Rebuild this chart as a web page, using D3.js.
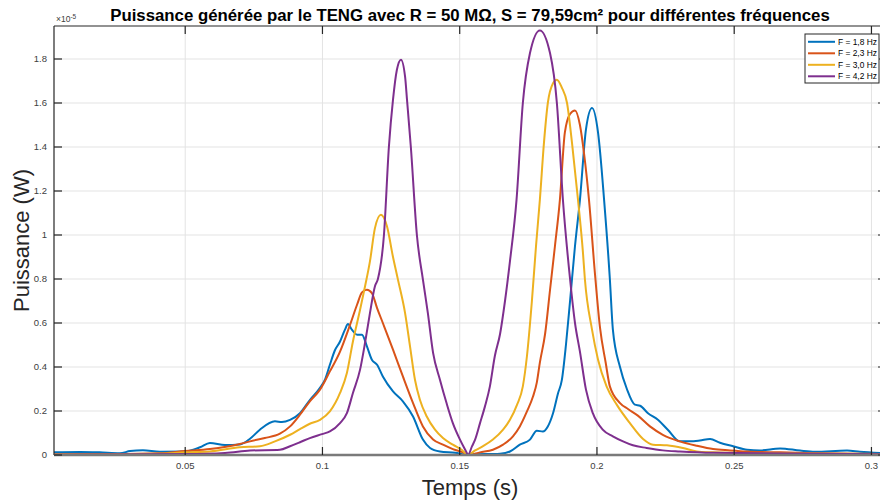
<!DOCTYPE html>
<html><head><meta charset="utf-8">
<script src="https://cdn.jsdelivr.net/npm/d3@7"></script>
<style>
body{margin:0;background:#fff;}
svg{display:block;font-family:"Liberation Sans",Arial,Helvetica,sans-serif;}
</style></head>
<body><svg id="c" width="880" height="501"></svg>
<script>
const titleText = "Puissance générée par le TENG avec R = 50 MΩ, S = 79,59cm² pour différentes fréquences";
const xLabel = "Temps (s)";
const yLabel = "Puissance (W)";
const xTicks = [0.05, 0.1, 0.15, 0.2, 0.25, 0.3];
const xTickLabels = ["0.05", "0.1", "0.15", "0.2", "0.25", "0.3"];
const yTicks = [0, 0.2, 0.4, 0.6, 0.8, 1, 1.2, 1.4, 1.6, 1.8];
const yTickLabels = ["0", "0.2", "0.4", "0.6", "0.8", "1", "1.2", "1.4", "1.6", "1.8"];
const seriesNames = ["F = 1,8 Hz", "F = 2,3 Hz", "F = 3,0 Hz", "F = 4,2 Hz"];
const seriesColors = ["#0072BD", "#D95319", "#EDB120", "#7E2F8E"];

// values in units of 1e-5 W
const tBlue = [0.0022,0.0117,0.0188,0.0262,0.0299,0.0346,0.0408,0.0499,0.0554,0.0590,0.0645,0.0699,0.0736,0.0772,0.0827,0.0852,0.0882,0.0918,0.0954,0.0991,0.1010,0.1027,0.1045,0.1064,0.1082,0.1093,0.1107,0.1126,0.1144,0.1162,0.1180,0.1199,0.1220,0.1257,0.1293,0.1330,0.1366,0.1392,0.1428,0.1483,0.1530,0.1537,0.1647,0.1683,0.1719,0.1756,0.1781,0.1803,0.1821,0.1840,0.1858,0.1872,0.1887,0.1902,0.1920,0.1938,0.1960,0.1982,0.2004,0.2026,0.2047,0.2058,0.2084,0.2109,0.2138,0.2157,0.2186,0.2222,0.2258,0.2302,0.2339,0.2375,0.2412,0.2448,0.2496,0.2547,0.2594,0.2667,0.2740,0.2794,0.2911,0.2958,0.3053];
const vBlue = [0.012,0.014,0.012,0.008,0.018,0.022,0.015,0.016,0.035,0.055,0.045,0.048,0.074,0.115,0.153,0.150,0.160,0.190,0.250,0.305,0.345,0.410,0.475,0.516,0.570,0.595,0.570,0.547,0.547,0.494,0.433,0.410,0.357,0.289,0.244,0.175,0.070,0.032,0.016,0.010,0.000,0.002,0.006,0.016,0.047,0.070,0.110,0.107,0.130,0.190,0.280,0.340,0.500,0.700,0.950,1.160,1.480,1.577,1.465,1.160,0.800,0.570,0.400,0.300,0.229,0.224,0.190,0.160,0.115,0.062,0.062,0.066,0.073,0.056,0.040,0.024,0.021,0.030,0.020,0.015,0.020,0.015,0.008];

const tOrange = [0.0022,0.0188,0.0408,0.0499,0.0590,0.0699,0.0736,0.0790,0.0845,0.0882,0.0918,0.0954,0.0991,0.1027,0.1064,0.1100,0.1126,0.1144,0.1162,0.1180,0.1199,0.1220,0.1257,0.1293,0.1330,0.1366,0.1403,0.1439,0.1475,0.1512,0.1530,0.1574,0.1621,0.1658,0.1694,0.1719,0.1745,0.1767,0.1781,0.1792,0.1811,0.1829,0.1847,0.1865,0.1883,0.1902,0.1920,0.1938,0.1953,0.1971,0.1993,0.2011,0.2032,0.2047,0.2084,0.2113,0.2149,0.2193,0.2240,0.2302,0.2364,0.2423,0.2485,0.2547,0.2667,0.2794,0.3053];
const vOrange = [0.003,0.004,0.008,0.018,0.027,0.050,0.062,0.077,0.097,0.130,0.183,0.244,0.297,0.380,0.470,0.590,0.683,0.739,0.751,0.736,0.668,0.600,0.479,0.357,0.236,0.130,0.070,0.047,0.027,0.012,0.000,0.012,0.024,0.047,0.085,0.130,0.198,0.266,0.330,0.420,0.550,0.750,0.950,1.160,1.465,1.550,1.566,1.500,1.370,1.160,0.820,0.580,0.418,0.312,0.236,0.209,0.179,0.130,0.092,0.062,0.042,0.027,0.021,0.016,0.012,0.008,0.004];

const tYellow = [0.0022,0.0408,0.0499,0.0590,0.0699,0.0772,0.0827,0.0882,0.0918,0.0954,0.0991,0.1027,0.1064,0.1089,0.1111,0.1137,0.1155,0.1173,0.1191,0.1213,0.1235,0.1257,0.1275,0.1301,0.1319,0.1337,0.1355,0.1380,0.1410,0.1439,0.1475,0.1507,0.1530,0.1556,0.1585,0.1621,0.1658,0.1683,0.1709,0.1730,0.1745,0.1763,0.1778,0.1792,0.1807,0.1821,0.1840,0.1854,0.1872,0.1891,0.1909,0.1931,0.1949,0.1956,0.1982,0.2004,0.2035,0.2072,0.2120,0.2168,0.2204,0.2255,0.2313,0.2364,0.2423,0.2547,0.3053];
const vYellow = [0.002,0.006,0.012,0.016,0.035,0.040,0.062,0.092,0.118,0.142,0.160,0.198,0.282,0.373,0.516,0.660,0.766,0.880,1.030,1.092,1.040,0.900,0.797,0.645,0.494,0.342,0.251,0.175,0.115,0.077,0.047,0.024,0.000,0.021,0.040,0.070,0.115,0.160,0.229,0.312,0.450,0.700,0.950,1.160,1.420,1.600,1.690,1.706,1.670,1.600,1.420,1.160,0.920,0.800,0.570,0.433,0.312,0.229,0.145,0.073,0.047,0.044,0.032,0.016,0.012,0.008,0.004];

const tPurple = [0.0022,0.0499,0.0645,0.0736,0.0845,0.0882,0.0918,0.0954,0.0998,0.1027,0.1064,0.1089,0.1111,0.1137,0.1155,0.1173,0.1191,0.1202,0.1224,0.1242,0.1257,0.1271,0.1286,0.1301,0.1308,0.1322,0.1344,0.1366,0.1384,0.1403,0.1428,0.1452,0.1475,0.1501,0.1525,0.1530,0.1545,0.1556,0.1574,0.1592,0.1610,0.1628,0.1647,0.1665,0.1683,0.1707,0.1730,0.1756,0.1792,0.1829,0.1854,0.1876,0.1902,0.1920,0.1938,0.1960,0.1985,0.2021,0.2058,0.2095,0.2131,0.2181,0.2240,0.2302,0.2423,0.3053];
const vPurple = [0.001,0.004,0.009,0.020,0.024,0.040,0.058,0.077,0.095,0.107,0.145,0.190,0.282,0.388,0.509,0.645,0.766,0.800,1.000,1.400,1.615,1.750,1.797,1.720,1.615,1.400,1.000,0.797,0.645,0.464,0.342,0.236,0.145,0.070,0.012,0.000,0.040,0.070,0.145,0.221,0.312,0.450,0.550,0.700,0.880,1.160,1.600,1.827,1.930,1.827,1.600,1.160,0.800,0.600,0.470,0.297,0.190,0.115,0.085,0.062,0.044,0.032,0.021,0.016,0.010,0.003];

const seriesT = [tBlue, tOrange, tYellow, tPurple];
const seriesV = [vBlue, vOrange, vYellow, vPurple];

const svg = d3.select("#c");
const L = 54, R = 886, T = 26, B = 455;
const x = d3.scaleLinear().domain([0.0022, 0.3053]).range([L, R]);
const y = d3.scaleLinear().domain([0, 1.95]).range([B, T]);
const txtCol = "#404040";

svg.append("rect").attr("width", 880).attr("height", 501).attr("fill", "#fff");
svg.append("defs").append("clipPath").attr("id", "clip").append("rect")
  .attr("x", L).attr("y", T).attr("width", R - L).attr("height", B - T);

// grid
const g = svg.append("g");
g.selectAll(".gx").data(xTicks).join("line")
  .attr("x1", d => x(d)).attr("x2", d => x(d)).attr("y1", T).attr("y2", B)
  .attr("stroke", "#e3e3e3").attr("stroke-width", 1);
g.selectAll(".gy").data(yTicks.slice(1)).join("line")
  .attr("x1", L).attr("x2", R).attr("y1", d => y(d)).attr("y2", d => y(d))
  .attr("stroke", "#e3e3e3").attr("stroke-width", 1);

// lines
const line = d3.line().x(d => x(d[0])).y(d => y(d[1])).curve(d3.curveMonotoneX);
const lg = svg.append("g").attr("clip-path", "url(#clip)");
seriesT.forEach((ts, i) => {
  const pts = ts.map((t, j) => [t, seriesV[i][j]]);
  lg.append("path").datum(pts).attr("d", line)
    .attr("fill", "none").attr("stroke", seriesColors[i]).attr("stroke-width", 2)
    .attr("stroke-linejoin", "round");
});

// axes frame
const axCol = "#262626";
svg.append("line").attr("x1", L).attr("x2", L).attr("y1", T).attr("y2", B).attr("stroke", axCol).attr("stroke-width", 1.2);
svg.append("line").attr("x1", L).attr("x2", R).attr("y1", T).attr("y2", T).attr("stroke", axCol).attr("stroke-width", 1.2);
svg.append("line").attr("x1", R).attr("x2", R).attr("y1", T).attr("y2", B).attr("stroke", axCol).attr("stroke-width", 1.2);
svg.append("line").attr("x1", L).attr("x2", R).attr("y1", B).attr("y2", B).attr("stroke", "#7a7a7a").attr("stroke-width", 2.5);

// ticks
const tl = 8;
svg.append("g").selectAll("line").data(xTicks).join("line")
  .attr("x1", d => x(d)).attr("x2", d => x(d)).attr("y1", B).attr("y2", B - tl)
  .attr("stroke", axCol).attr("stroke-width", 1.2);
svg.append("g").selectAll("line").data(xTicks).join("line")
  .attr("x1", d => x(d)).attr("x2", d => x(d)).attr("y1", T).attr("y2", T + tl)
  .attr("stroke", axCol).attr("stroke-width", 1.2);
svg.append("g").selectAll("line").data(yTicks).join("line")
  .attr("x1", L).attr("x2", L + tl).attr("y1", d => y(d)).attr("y2", d => y(d))
  .attr("stroke", axCol).attr("stroke-width", 1.2);
svg.append("g").selectAll("line").data(yTicks).join("line")
  .attr("x1", R).attr("x2", R - tl).attr("y1", d => y(d)).attr("y2", d => y(d))
  .attr("stroke", axCol).attr("stroke-width", 1.2);

// tick labels
svg.append("g").selectAll("text").data(xTicks).join("text")
  .attr("x", d => x(d)).attr("y", 469).attr("text-anchor", "middle")
  .attr("font-size", "9.5px").attr("fill", txtCol)
  .text((d, i) => xTickLabels[i]);
svg.append("g").selectAll("text").data(yTicks).join("text")
  .attr("x", 47).attr("y", d => y(d) + 3.4).attr("text-anchor", "end")
  .attr("font-size", "9.5px").attr("fill", txtCol)
  .text((d, i) => yTickLabels[i]);

// exponent
const ex = svg.append("text").attr("x", 56).attr("y", 22).attr("font-size", "8.5px").attr("fill", txtCol);
ex.append("tspan").text("×10");
ex.append("tspan").attr("dy", -3.5).attr("font-size", "6.5px").text("-5");

// title
svg.append("text").attr("x", (L + R) / 2).attr("y", 21).attr("text-anchor", "middle")
  .attr("font-size", "16.8px").attr("font-weight", "bold").attr("fill", "#000")
  .text(titleText);

// axis labels
svg.append("text").attr("x", (L + R) / 2).attr("y", 495).attr("text-anchor", "middle")
  .attr("font-size", "22px").attr("fill", "#262626").text(xLabel);
svg.append("text").attr("transform", `translate(29,${(T + B) / 2}) rotate(-90)`)
  .attr("text-anchor", "middle").attr("font-size", "22px").attr("fill", "#262626").text(yLabel);

// legend
const lgX = 805, lgY = 34, lgW = 74, lgH = 49;
const leg = svg.append("g");
leg.append("rect").attr("x", lgX).attr("y", lgY).attr("width", lgW).attr("height", lgH)
  .attr("fill", "#fff").attr("stroke", axCol).attr("stroke-width", 1);
seriesNames.forEach((n, i) => {
  const yy = lgY + 7.8 + i * 11.5;
  leg.append("line").attr("x1", lgX + 3).attr("x2", lgX + 30).attr("y1", yy).attr("y2", yy)
    .attr("stroke", seriesColors[i]).attr("stroke-width", 2);
  leg.append("text").attr("x", lgX + 33).attr("y", yy + 3).attr("font-size", "8.4px")
    .attr("fill", "#000").text(n);
});
</script></body></html>
